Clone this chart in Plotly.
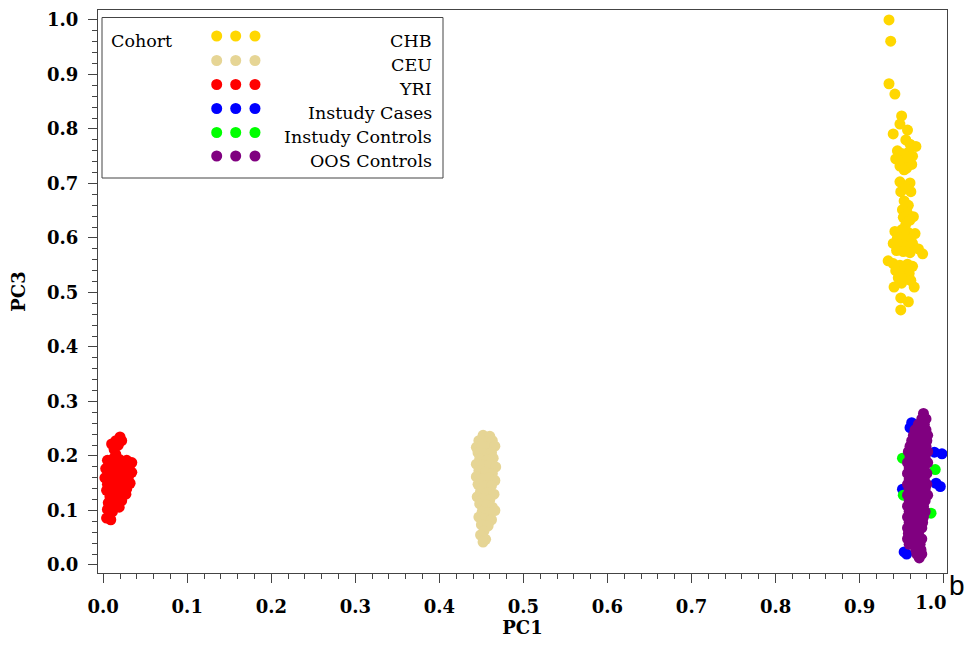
import plotly.graph_objects as go

# ---- principal component scores per cohort (PC1, PC3) ----
chb_pc1 = [0.935, 0.937, 0.935, 0.942, 0.950, 0.948, 0.957, 0.940, 0.967,
           0.955, 0.960, 0.945, 0.950, 0.958, 0.963, 0.943, 0.952, 0.960, 0.948,
           0.956, 0.962, 0.953, 0.958,
           0.948, 0.960, 0.949, 0.961, 0.955,
           0.953, 0.958, 0.951, 0.957, 0.952, 0.960, 0.955, 0.964,
           0.942, 0.950, 0.958, 0.966, 0.945, 0.953, 0.961, 0.940, 0.948, 0.956,
           0.963, 0.970, 0.944, 0.952, 0.960, 0.975,
           0.934,
           0.940, 0.948, 0.957, 0.963, 0.943, 0.951, 0.959, 0.946, 0.954, 0.961,
           0.950,
           0.941, 0.965, 0.949, 0.958, 0.949]
chb_pc3 = [1.000, 0.961, 0.883, 0.864, 0.824, 0.809, 0.798, 0.791, 0.768,
           0.780, 0.772, 0.760, 0.755, 0.757, 0.750, 0.745, 0.742, 0.738, 0.732,
           0.728, 0.735, 0.725, 0.748,
           0.703, 0.701, 0.685, 0.685, 0.692,
           0.668, 0.660, 0.652, 0.645, 0.638, 0.633, 0.625, 0.639,
           0.612, 0.615, 0.610, 0.608, 0.600, 0.602, 0.598, 0.590, 0.588, 0.585,
           0.590, 0.580, 0.577, 0.575, 0.573, 0.571,
           0.558,
           0.553, 0.550, 0.552, 0.548, 0.540, 0.537, 0.535, 0.527, 0.525, 0.522,
           0.517,
           0.510, 0.510, 0.490, 0.483, 0.468]

ceu_pc1 = [0.452, 0.460, 0.447, 0.455, 0.463, 0.444, 0.451, 0.459, 0.466,
           0.446, 0.454, 0.462, 0.448, 0.456, 0.464, 0.444, 0.452, 0.460, 0.467,
           0.447, 0.455, 0.463, 0.444, 0.451, 0.459, 0.466, 0.446, 0.454, 0.462,
           0.449, 0.457, 0.465, 0.445, 0.452, 0.460, 0.448, 0.456, 0.463,
           0.451, 0.459, 0.466, 0.447, 0.455, 0.462, 0.450, 0.458, 0.453,
           0.449, 0.455, 0.452]
ceu_pc3 = [0.238, 0.236, 0.228, 0.226, 0.228, 0.216, 0.218, 0.214, 0.218,
           0.206, 0.204, 0.206, 0.195, 0.192, 0.196, 0.185, 0.183, 0.185, 0.180,
           0.173, 0.170, 0.168, 0.162, 0.158, 0.160, 0.155, 0.148, 0.145, 0.146,
           0.135, 0.133, 0.130, 0.125, 0.122, 0.120, 0.112, 0.110, 0.106,
           0.098, 0.096, 0.100, 0.088, 0.085, 0.083, 0.074, 0.072, 0.062,
           0.055, 0.047, 0.042]

yri_pc1 = [0.020, 0.022, 0.015, 0.010, 0.018, 0.013, 0.015,
           0.005, 0.012, 0.020, 0.028, 0.034, 0.008, 0.016, 0.024, 0.031,
           0.003, 0.011, 0.019, 0.027, 0.034, 0.006, 0.014, 0.022, 0.030,
           0.002, 0.010, 0.018, 0.026, 0.032, 0.005, 0.013, 0.021, 0.028,
           0.004, 0.012, 0.020, 0.027, 0.008, 0.016, 0.022, 0.006, 0.013,
           0.019, 0.005, 0.011, 0.008, 0.004, 0.009]
yri_pc3 = [0.235, 0.228, 0.228, 0.222, 0.220, 0.212, 0.203,
           0.192, 0.195, 0.193, 0.192, 0.188, 0.185, 0.184, 0.186, 0.180,
           0.177, 0.176, 0.175, 0.172, 0.170, 0.168, 0.166, 0.164, 0.162,
           0.160, 0.157, 0.155, 0.153, 0.150, 0.148, 0.146, 0.143, 0.140,
           0.137, 0.135, 0.132, 0.130, 0.125, 0.122, 0.118, 0.114, 0.110,
           0.106, 0.102, 0.098, 0.092, 0.086, 0.083]

cases_pc1 = [0.962, 0.960, 0.998, 0.996, 0.991, 0.951, 0.956, 0.953, 0.989,
             0.965, 0.972, 0.968, 0.975, 0.970]
cases_pc3 = [0.261, 0.252, 0.204, 0.144, 0.150, 0.139, 0.020, 0.024, 0.207,
             0.180, 0.120, 0.060, 0.220, 0.150]

controls_pc1 = [0.951, 0.990, 0.985, 0.952, 0.965, 0.970, 0.975, 0.962]
controls_pc3 = [0.196, 0.175, 0.095, 0.128, 0.150, 0.100, 0.200, 0.050]

oos_pc1 = [0.976,
           0.974, 0.979,
           0.970, 0.977,
           0.966, 0.972, 0.979,
           0.964, 0.970, 0.976, 0.981,
           0.962, 0.968, 0.974, 0.980,
           0.960, 0.966, 0.973, 0.979,
           0.958, 0.964, 0.970, 0.976, 0.981,
           0.960, 0.966, 0.972, 0.978,
           0.957, 0.963, 0.969, 0.975, 0.981,
           0.959, 0.965, 0.971, 0.977,
           0.957, 0.963, 0.969, 0.975, 0.980,
           0.959, 0.965, 0.971, 0.977,
           0.957, 0.962, 0.968, 0.974, 0.980,
           0.959, 0.965, 0.971, 0.978,
           0.957, 0.963, 0.969, 0.975, 0.981,
           0.959, 0.966, 0.972, 0.978,
           0.957, 0.963, 0.969, 0.976,
           0.959, 0.965, 0.971, 0.978,
           0.957, 0.963, 0.970, 0.976,
           0.959, 0.965, 0.971, 0.975,
           0.957, 0.963, 0.969, 0.974,
           0.958, 0.964, 0.970,
           0.957, 0.963, 0.969, 0.974,
           0.959, 0.966, 0.972,
           0.967, 0.973,
           0.968, 0.974,
           0.971]
oos_pc3 = [0.278,
           0.268, 0.268,
           0.258, 0.258,
           0.248, 0.248, 0.248,
           0.238, 0.238, 0.238, 0.238,
           0.228, 0.228, 0.228, 0.228,
           0.218, 0.218, 0.218, 0.218,
           0.208, 0.208, 0.208, 0.208, 0.208,
           0.198, 0.198, 0.198, 0.198,
           0.188, 0.188, 0.188, 0.188, 0.188,
           0.178, 0.178, 0.178, 0.178,
           0.168, 0.168, 0.168, 0.168, 0.168,
           0.158, 0.158, 0.158, 0.158,
           0.148, 0.148, 0.148, 0.148, 0.148,
           0.138, 0.138, 0.138, 0.138,
           0.128, 0.128, 0.128, 0.128, 0.128,
           0.118, 0.118, 0.118, 0.118,
           0.108, 0.108, 0.108, 0.108,
           0.098, 0.098, 0.098, 0.098,
           0.088, 0.088, 0.088, 0.088,
           0.078, 0.078, 0.078, 0.078,
           0.068, 0.068, 0.068, 0.068,
           0.058, 0.058, 0.058,
           0.048, 0.048, 0.048, 0.048,
           0.038, 0.038, 0.038,
           0.028, 0.028,
           0.020, 0.020,
           0.013]

cohort_names = ["CHB", "CEU", "YRI", "Instudy Cases", "Instudy Controls", "OOS Controls"]
cohort_colors = ["#FFD700", "#E6D595", "#FF0000", "#0000FF", "#00FF00", "#800080"]
cohort_pc1 = [chb_pc1, ceu_pc1, yri_pc1, cases_pc1, controls_pc1, oos_pc1]
cohort_pc3 = [chb_pc3, ceu_pc3, yri_pc3, cases_pc3, controls_pc3, oos_pc3]

# the last PC1 label sits left of its tick, so it is drawn on its own axis
last_pc1_tick = [1.0]
last_pc1_label = ["1.0"]

W, H = 966, 663
ML, MR, MT, MB = 98, 19, 10, 90
PW, PH = W - ML - MR, H - MT - MB
X_RANGE = [-0.0062, 1.004]
Y_RANGE = [-0.0147, 1.0183]


def fx(px):
    return (px - ML) / PW


def fy(py):
    return (H - MB - py) / PH


SERIF = "DejaVu Serif"
AXIS_COLOR = "#444444"
TICK_FONT = dict(family=SERIF, size=18, color="black", weight="bold")
TITLE_FONT = dict(family=SERIF, size=18, color="black", weight="bold")

fig = go.Figure()
for name, color, xs, ys in zip(cohort_names, cohort_colors, cohort_pc1, cohort_pc3):
    fig.add_trace(go.Scatter(
        x=xs, y=ys, mode="markers", name=name, showlegend=False,
        marker=dict(color=color, size=11, line=dict(width=0)),
    ))
# empty trace so the label-only axis is rendered
fig.add_trace(go.Scatter(x=[], y=[], xaxis="x2", yaxis="y", showlegend=False,
                         hoverinfo="skip"))

axis_common = dict(
    showline=True, linecolor=AXIS_COLOR, linewidth=1, mirror=True,
    showgrid=False, zeroline=False,
    ticks="outside", ticklen=9, tickwidth=1, tickcolor=AXIS_COLOR,
    tickmode="linear", tick0=0, dtick=0.1, tickformat=".1f",
    tickfont=TICK_FONT,
    minor=dict(dtick=0.02, tick0=0, ticks="outside", ticklen=5, tickwidth=1,
               tickcolor=AXIS_COLOR),
)

fig.update_layout(
    xaxis=dict(range=X_RANGE, ticklabelstandoff=8, labelalias={"1.0": " "},
               title=dict(text="PC1", standoff=1, font=TITLE_FONT), **axis_common),
    xaxis2=dict(range=X_RANGE, overlaying="x", anchor="y", side="bottom",
                showline=False, showgrid=False, zeroline=False, ticks="",
                tickmode="array", tickvals=last_pc1_tick, ticktext=last_pc1_label,
                ticklabelposition="outside left", ticklabelshift=3,
                ticklabelstandoff=17, tickfont=TICK_FONT),
    yaxis=dict(range=Y_RANGE, ticklabelstandoff=6,
               title=dict(text="PC3", standoff=16, font=TITLE_FONT), **axis_common),
)

# ---- in-plot legend box with three swatch dots per cohort ----
LEGEND_FONT = dict(family=SERIF, size=17.5, color="black")
shapes = [dict(type="rect", xref="paper", yref="paper",
               x0=fx(102), x1=fx(443), y0=fy(178), y1=fy(17.5),
               line=dict(color=AXIS_COLOR, width=1), fillcolor="white", layer="above")]
annotations = [dict(text="Cohort", xref="paper", yref="paper", x=fx(109), y=fy(41),
                    xanchor="left", yanchor="middle", showarrow=False, font=LEGEND_FONT)]
row_y = [36, 60.5, 84.5, 108.5, 132.5, 156]
dot_x = [216.7, 235.7, 255]
for name, color, ry in zip(cohort_names, cohort_colors, row_y):
    for dx in dot_x:
        shapes.append(dict(type="circle", xref="paper", yref="paper",
                           xsizemode="pixel", ysizemode="pixel",
                           xanchor=fx(dx), yanchor=fy(ry),
                           x0=-5.5, x1=5.5, y0=-5.5, y1=5.5,
                           fillcolor=color, line=dict(width=0), layer="above"))
    annotations.append(dict(text=name, xref="paper", yref="paper", x=fx(434), y=fy(ry + 4.5),
                            xanchor="right", yanchor="middle", showarrow=False,
                            font=LEGEND_FONT))

# panel letter
annotations.append(dict(text="b", xref="paper", yref="paper", x=fx(947), y=fy(585),
                        xanchor="left", yanchor="middle", showarrow=False,
                        font=dict(family="Liberation Sans", size=28, color="black")))

fig.update_layout(
    width=W, height=H,
    margin=dict(l=ML, r=MR, t=MT, b=MB),
    paper_bgcolor="white", plot_bgcolor="white",
    shapes=shapes, annotations=annotations,
    showlegend=False,
)

fig.write_html("out.html")
